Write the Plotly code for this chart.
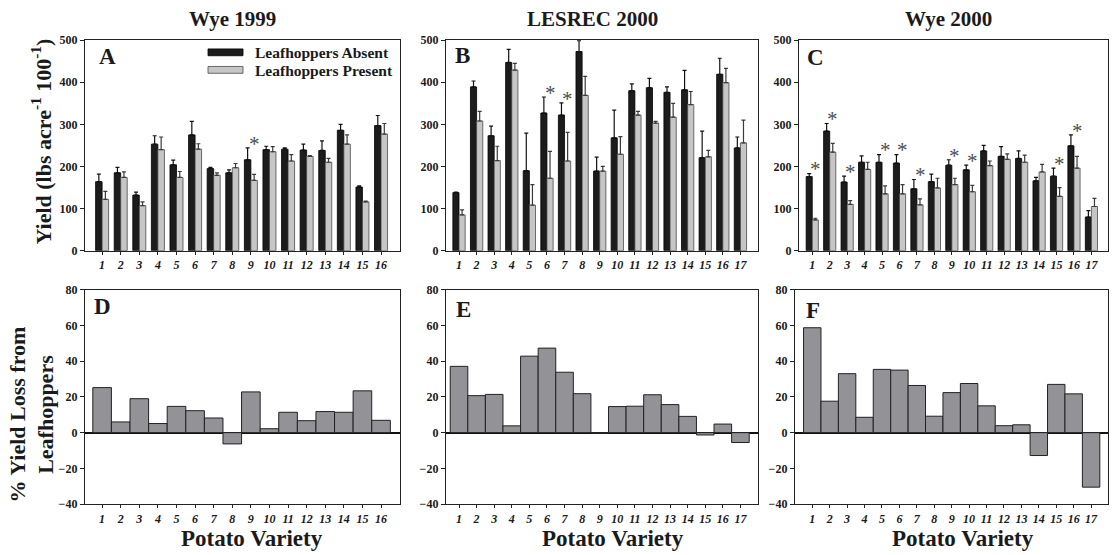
import plotly.graph_objects as go

# ---------------- data ----------------
var16 = list(range(1, 17))
var17 = list(range(1, 18))

A_absent = [164, 185, 132, 253, 204, 275, 195, 185, 216, 240, 241, 239, 238, 286, 151, 297]
A_absent_err = [18, 13, 7, 20, 11, 32, 3, 7, 28, 8, 3, 14, 23, 14, 3, 24]
A_present = [122, 174, 107, 240, 174, 241, 179, 197, 167, 235, 213, 224, 210, 253, 116, 277]
A_present_err = [19, 13, 9, 30, 14, 13, 6, 10, 14, 12, 15, 2, 9, 22, 2, 25]
A_sig = [9]

B_absent = [138, 389, 273, 447, 190, 327, 322, 473, 189, 268, 380, 387, 376, 382, 221, 419, 244]
B_absent_err = [1, 14, 23, 31, 89, 38, 29, 26, 33, 66, 16, 22, 13, 46, 63, 38, 26]
B_present = [85, 308, 214, 429, 108, 172, 213, 369, 189, 229, 322, 303, 317, 347, 223, 399, 256]
B_present_err = [12, 23, 34, 16, 49, 64, 68, 45, 11, 42, 9, 4, 33, 31, 15, 34, 54]
B_sig = [6, 7]

C_absent = [176, 284, 163, 210, 210, 208, 147, 164, 203, 192, 237, 224, 219, 166, 177, 249, 80]
C_absent_err = [7, 18, 14, 15, 18, 20, 22, 18, 13, 11, 13, 23, 18, 8, 19, 26, 15]
C_present = [73, 234, 110, 193, 135, 135, 109, 149, 157, 140, 202, 217, 210, 187, 129, 196, 105]
C_present_err = [4, 21, 9, 17, 19, 22, 14, 23, 15, 15, 11, 13, 17, 18, 21, 28, 19]
C_sig = [1, 2, 3, 5, 6, 7, 9, 10, 15, 16]

D_loss = [25.2, 6.0, 19.0, 5.1, 14.7, 12.3, 8.2, -6.3, 22.8, 2.2, 11.4, 6.7, 11.8, 11.4, 23.4, 6.9]
E_loss = [37.1, 20.7, 21.4, 3.8, 42.8, 47.3, 33.8, 21.8, -0.4, 14.6, 14.8, 21.2, 15.7, 9.1, -1.3, 4.8, -5.5]
F_loss = [58.7, 17.6, 33.0, 8.6, 35.4, 35.0, 26.4, 9.2, 22.4, 27.5, 15.0, 3.9, 4.4, -12.8, 27.0, 21.7, -30.5]

titles = ["Wye 1999", "LESREC 2000", "Wye 2000"]
letters = ["A", "B", "C", "D", "E", "F"]
series_names = ["Leafhoppers Absent", "Leafhoppers Present"]

# ---------------- layout helpers ----------------
W, H = 1112, 555
FONT = "Liberation Serif"
INK = "#1a1a1a"
BARGAP = 0.3


def px(x):
    return x / W


def py(y):
    return 1 - y / H


# panel frames in pixels: (left, right, top, bottom)
frames = [
    (85, 400, 34, 250), (446, 758, 34, 250), (799, 1108, 34, 250),
    (85, 400, 290, 510), (446, 758, 290, 510), (795, 1108, 290, 510),
]
xranges = [[0.08, 17.02], [0.26, 18.0], [0.24, 17.95],
           [0.08, 17.02], [0.26, 18.0], [0.01, 17.97]]

fig = go.Figure()

top_sets = [
    (var16, A_absent, A_absent_err, A_present, A_present_err, A_sig),
    (var17, B_absent, B_absent_err, B_present, B_present_err, B_sig),
    (var17, C_absent, C_absent_err, C_present, C_present_err, C_sig),
]
bottom_sets = [(var16, D_loss), (var17, E_loss), (var17, F_loss)]

annotations = []

for i, (v, ab, abe, pr, pre, sig) in enumerate(top_sets):
    ax = "x" if i == 0 else f"x{i + 1}"
    ay = "y" if i == 0 else f"y{i + 1}"
    fig.add_trace(go.Bar(
        x=v, y=ab, xaxis=ax, yaxis=ay, name=series_names[0],
        marker=dict(color="#1c1c1c", line=dict(color="#000000", width=0.8)),
        error_y=dict(type="data", array=abe, arrayminus=[0] * len(abe), symmetric=False,
                     color="#111111", thickness=1.2, width=2),
        offsetgroup="a", showlegend=False,
    ))
    fig.add_trace(go.Bar(
        x=v, y=pr, xaxis=ax, yaxis=ay, name=series_names[1],
        marker=dict(color="#c6c6c6", line=dict(color="#4a4a4a", width=0.8)),
        error_y=dict(type="data", array=pre, arrayminus=[0] * len(pre), symmetric=False,
                     color="#3a3a3a", thickness=1.2, width=2),
        offsetgroup="b", showlegend=False,
    ))
    off = (1 - BARGAP) / 4
    for s in sig:
        k = v.index(s)
        top = max(ab[k] + abe[k], pr[k] + pre[k])
        annotations.append(dict(
            x=s + off, y=top + 10, xref=ax, yref=ay, text="*", showarrow=False,
            xanchor="center", yanchor="middle",
            font=dict(family=FONT, size=21, color="#4d4d4d")))

for j, (v, loss) in enumerate(bottom_sets):
    n = j + 4
    fig.add_trace(go.Bar(
        x=v, y=loss, xaxis=f"x{n}", yaxis=f"y{n}", width=1,
        marker=dict(color="#929297", line=dict(color="#222222", width=1)),
        showlegend=False,
    ))

tickfont_x = dict(family=FONT, size=12, color=INK, weight="bold", style="italic")
tickfont_y = dict(family=FONT, size=12, color=INK, weight="bold")

layout_axes = {}
for idx, (l, r, t, b) in enumerate(frames):
    n = idx + 1
    xk = "xaxis" if n == 1 else f"xaxis{n}"
    yk = "yaxis" if n == 1 else f"yaxis{n}"
    cats = var16 if idx in (0, 3) else var17
    layout_axes[xk] = dict(
        domain=[px(l), px(r)], range=xranges[idx], anchor="y" if n == 1 else f"y{n}",
        tickmode="array", tickvals=cats, ticktext=[str(c) for c in cats],
        ticks="outside", ticklen=3, tickwidth=1, tickcolor="#222",
        showline=True, linecolor="#222", linewidth=1.3, mirror=True,
        showgrid=False, zeroline=False, tickfont=tickfont_x, fixedrange=True,
    )
    if idx < 3:
        yr, dt, zl = [0, 500], 100, False
    else:
        yr, dt, zl = [-40, 80], 20, True
    layout_axes[yk] = dict(
        domain=[py(b), py(t)], range=yr, dtick=dt, anchor="x" if n == 1 else f"x{n}",
        ticks="outside", ticklen=4, tickwidth=1, tickcolor="#222",
        showline=True, linecolor="#222", linewidth=1.3, mirror=True,
        showgrid=False, zeroline=zl, zerolinecolor="#111", zerolinewidth=1.5,
        tickfont=tickfont_y, fixedrange=True,
    )

# panel titles
for (cx, txt) in zip([232, 592, 948], titles):
    annotations.append(dict(x=px(cx), y=py(12), xref="paper", yref="paper", text=txt,
                            showarrow=False, xanchor="center", yanchor="middle",
                            font=dict(family=FONT, size=21, color=INK, weight="bold")))

# panel letters
for (cx, cy), L in zip([(107, 51), (462, 50), (815, 52), (103, 307), (463, 310), (813, 311)], letters):
    annotations.append(dict(x=px(cx), y=py(cy), xref="paper", yref="paper", text=L,
                            showarrow=False, xanchor="center", yanchor="middle",
                            font=dict(family=FONT, size=23, color=INK, weight="bold")))

# x axis titles
for cx in [252, 613, 963]:
    annotations.append(dict(x=px(cx), y=py(545), xref="paper", yref="paper", text="Potato Variety",
                            showarrow=False, xanchor="center", yanchor="middle",
                            font=dict(family=FONT, size=23, color=INK, weight="bold")))

# y axis titles
annotations.append(dict(x=px(41), y=py(138), xref="paper", yref="paper",
                        text="Yield (lbs acre<sup>-1</sup> 100<sup>-1</sup>)", textangle=-90,
                        showarrow=False, xanchor="center", yanchor="middle",
                        font=dict(family=FONT, size=22, color=INK, weight="bold")))
annotations.append(dict(x=px(32), y=py(418), xref="paper", yref="paper",
                        text="% Yield Loss from<br>Leafhoppers", textangle=-90,
                        showarrow=False, xanchor="center", yanchor="middle",
                        font=dict(family=FONT, size=22, color=INK, weight="bold")))

# legend (panel A)
shapes = [
    dict(type="rect", xref="paper", yref="paper", x0=px(208), x1=px(243), y0=py(50), y1=py(43),
         fillcolor="#1c1c1c", line=dict(color="#000", width=0.8)),
    dict(type="rect", xref="paper", yref="paper", x0=px(208), x1=px(243), y0=py(68), y1=py(61),
         fillcolor="#c6c6c6", line=dict(color="#4a4a4a", width=0.8)),
]
for cy, name in zip([47, 65], series_names):
    annotations.append(dict(x=px(253), y=py(cy), xref="paper", yref="paper", text=name,
                            showarrow=False, xanchor="left", yanchor="middle",
                            font=dict(family=FONT, size=15.5, color=INK, weight="bold")))

fig.update_layout(
    width=W, height=H, margin=dict(l=0, r=0, t=0, b=0),
    paper_bgcolor="white", plot_bgcolor="white",
    barmode="group", bargap=BARGAP, bargroupgap=0,
    showlegend=False, font=dict(family=FONT, color=INK),
    annotations=annotations, shapes=shapes,
    **layout_axes,
)

fig.write_html("out.html")
